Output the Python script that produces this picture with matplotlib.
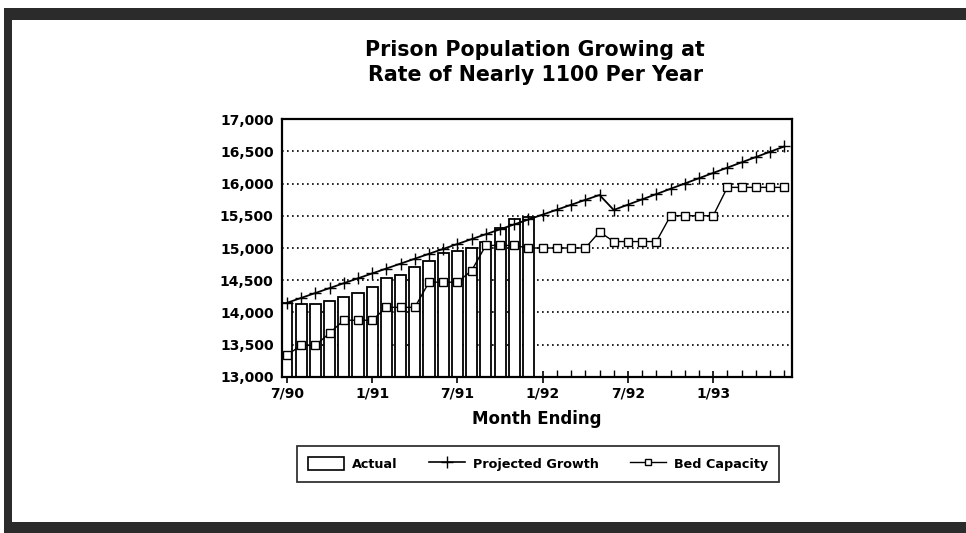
import matplotlib
matplotlib.use("Agg")
import matplotlib.pyplot as plt
from matplotlib.patches import Patch, Rectangle
from matplotlib.lines import Line2D

plt.rcParams['font.family'] = ['DejaVu Sans']
plt.rcParams['font.weight'] = 'bold'

# monthly series, 7/90 through 6/93
month_labels = ['7/90', '1/91', '7/91', '1/92', '7/92', '1/93']
label_months = [0, 6, 12, 18, 24, 30]

actual = [14140, 14135, 14130, 14180, 14245, 14305, 14390, 14530, 14580,
          14700, 14800, 14930, 14960, 15005, 15100, 15315, 15445, 15475]

projected = [14150, 14226, 14302, 14378, 14454, 14530, 14606, 14682, 14758,
             14834, 14910, 14986, 15062, 15138, 15214, 15290, 15366, 15442,
             15518, 15594, 15670, 15746, 15822, 15590, 15672, 15754, 15836,
             15918, 16000, 16082, 16164, 16246, 16328, 16410, 16492, 16574]

bed_capacity = [13340, 13490, 13490, 13680, 13880, 13880, 13880, 14080, 14080,
                14080, 14470, 14470, 14470, 14650, 15040, 15040, 15040, 15000,
                15000, 15000, 15000, 15000, 15250, 15100, 15100, 15100, 15100,
                15500, 15500, 15500, 15500, 15940, 15940, 15940, 15940, 15940]

y_ticks = [13000, 13500, 14000, 14500, 15000, 15500, 16000, 16500, 17000]

fig = plt.figure(figsize=(9.66, 5.33), dpi=100)
fig.patch.set_facecolor('white')

# dark frame round the page
frame = '#2b2b2b'
fig.patches.append(Rectangle((0.004, 0.962), 0.996, 0.023, transform=fig.transFigure,
                             facecolor=frame, edgecolor='none'))
fig.patches.append(Rectangle((0.004, 0.0), 0.008, 0.985, transform=fig.transFigure,
                             facecolor=frame, edgecolor='none'))
fig.patches.append(Rectangle((0.004, 0.0), 0.996, 0.021, transform=fig.transFigure,
                             facecolor=frame, edgecolor='none'))

ax = fig.add_axes([0.2919, 0.2927, 0.528, 0.484])

months = list(range(len(projected)))
ax.bar(range(len(actual)), actual, width=0.78, bottom=0, color='white',
       edgecolor='black', linewidth=1.3, zorder=2)
ax.plot(months, projected, color='black', linewidth=1.3, marker='+',
        markersize=8, markeredgewidth=1.0, zorder=4)
ax.plot(months, bed_capacity, color='black', linewidth=1.0, marker='s',
        markersize=6, markerfacecolor='white', markeredgecolor='black',
        markeredgewidth=1.0, zorder=5)

ax.set_ylim(13000, 17000)
ax.set_xlim(-0.35, 35.55)
ax.set_yticks(y_ticks)
ax.set_yticklabels([f'{v:,}' for v in y_ticks])
ax.set_xticks(label_months)
ax.set_xticklabels(month_labels)
ax.set_xticks(months, minor=True)
ax.tick_params(axis='y', length=0, pad=6, labelsize=10)
ax.tick_params(axis='x', which='major', direction='inout', length=8, width=1.2,
               pad=3, labelsize=10)
ax.tick_params(axis='x', which='minor', direction='in', length=5, width=1.0)

ax.grid(axis='y', color='black', linestyle=(0, (1, 2)), linewidth=1.2, zorder=1)
ax.set_axisbelow(True)
for s in ax.spines.values():
    s.set_linewidth(1.6)

ax.set_xlabel('Month Ending', fontsize=12, fontweight='bold', labelpad=7)

fig.text(0.554, 0.883, 'Prison Population Growing at\nRate of Nearly 1100 Per Year',
         ha='center', va='center', fontsize=14.8, fontweight='bold', linespacing=1.3)

handles = [
    Patch(facecolor='white', edgecolor='black', linewidth=1.2),
    Line2D([], [], color='black', linewidth=1.2, marker='+', markersize=9),
    Line2D([], [], color='black', linewidth=1.0, marker='s', markersize=5,
           markerfacecolor='white'),
]
leg = fig.legend(handles, ['Actual', 'Projected Growth', 'Bed Capacity'],
                 loc='center', bbox_to_anchor=(0.557, 0.1295), ncol=3,
                 frameon=True, fancybox=False, edgecolor='black',
                 prop={'weight': 'bold', 'size': 9.2}, handlelength=2.8,
                 handleheight=1.2, columnspacing=2.5, borderpad=0.85,
                 handletextpad=0.6)
leg.get_frame().set_linewidth(1.3)

fig.savefig('out.png', dpi=100, facecolor='white')
